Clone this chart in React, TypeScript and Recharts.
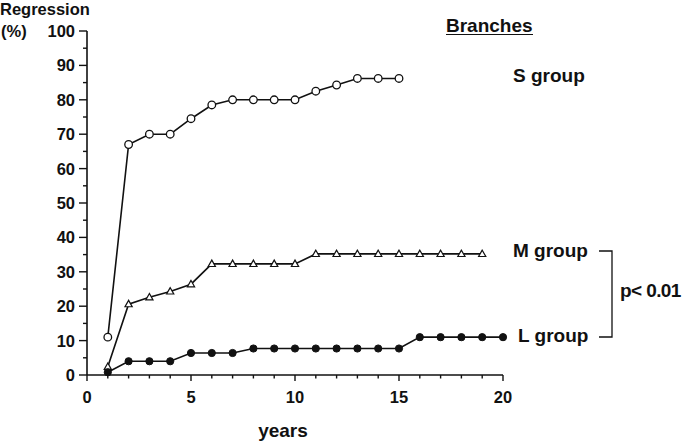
import { LineChart, Line, XAxis, YAxis, Customized } from "recharts";

const xTicks = Array.from({ length: 21 }, (_, i) => i);
const yTicks = Array.from({ length: 21 }, (_, i) => i * 5);

const sYears = [1, 2, 3, 4, 5, 6, 7, 8, 9, 10, 11, 12, 13, 14, 15];
const sValues = [11, 67, 70, 70, 74.5, 78.5, 80, 80, 80, 80, 82.5, 84.3, 86.2, 86.2, 86.2];

const mYears = [1, 2, 3, 4, 5, 6, 7, 8, 9, 10, 11, 12, 13, 14, 15, 16, 17, 18, 19];
const mValues = [2.4, 20.6, 22.6, 24.3, 26.4, 32.3, 32.3, 32.3, 32.3, 32.3, 35.2, 35.2, 35.2, 35.2, 35.2, 35.2, 35.2, 35.2, 35.2];

const lYears = [1, 2, 3, 4, 5, 6, 7, 8, 9, 10, 11, 12, 13, 14, 15, 16, 17, 18, 19, 20];
const lValues = [0.8, 4, 4, 4, 6.4, 6.4, 6.4, 7.7, 7.7, 7.7, 7.7, 7.7, 7.7, 7.7, 7.7, 11, 11, 11, 11, 11];

const sData = sYears.map((year, i) => ({ year, value: sValues[i] }));
const mData = mYears.map((year, i) => ({ year, value: mValues[i] }));
const lData = lYears.map((year, i) => ({ year, value: lValues[i] }));

const ink = "#111";
const font = "'Liberation Sans', Arial, Helvetica, sans-serif";

function XTick(props: any) {
  const { x, y, payload } = props;
  const major = payload.value % 5 === 0;
  return (
    <g>
      <line x1={x} y1={y} x2={x} y2={y + (major ? 6 : 3.5)} stroke={ink} strokeWidth={1.4} />
      {major && (
        <text x={x} y={y + 27.5} textAnchor="middle" fontFamily={font} fontWeight="bold" fontSize={16.5} fill={ink}>
          {payload.value}
        </text>
      )}
    </g>
  );
}

function YTick(props: any) {
  const { x, y, payload } = props;
  const major = payload.value % 10 === 0;
  return (
    <g>
      <line x1={x} y1={y} x2={x - (major ? 8 : 4)} y2={y} stroke={ink} strokeWidth={1.4} />
      {major && (
        <text x={x - 12} y={y + 6} textAnchor="end" fontFamily={font} fontWeight="bold" fontSize={16.5} fill={ink}>
          {payload.value}
        </text>
      )}
    </g>
  );
}

function Triangle(props: any) {
  const { cx, cy } = props;
  if (cx == null || cy == null) return null;
  return (
    <polygon
      points={`${cx},${cy - 3.8} ${cx - 3.6},${cy + 2.6} ${cx + 3.6},${cy + 2.6}`}
      fill="#fff"
      stroke={ink}
      strokeWidth={1.2}
    />
  );
}

function Annotations() {
  const t = { fontFamily: font, fontWeight: "bold" as const, fill: ink };
  return (
    <g>
      <text x={0} y={14.5} fontSize={16.5} {...t}>Regression</text>
      <text x={1} y={37} fontSize={16.5} {...t}>(%)</text>
      <text x={446} y={31.5} fontSize={19} {...t}>Branches</text>
      <line x1={446} y1={34.5} x2={533} y2={34.5} stroke={ink} strokeWidth={1} />
      <text x={513} y={81.5} fontSize={19} {...t}>S group</text>
      <text x={513} y={256.5} fontSize={19} {...t}>M group</text>
      <text x={518} y={341.5} fontSize={19} {...t}>L group</text>
      <text x={620} y={297} fontSize={19} letterSpacing={-0.6} {...t}>p&lt; 0.01</text>
      <polyline points="599,251 612,251 612,337 599,337" fill="none" stroke={ink} strokeWidth={1.3} />
      <text x={283} y={437} textAnchor="middle" fontSize={19} {...t}>years</text>
    </g>
  );
}

export default function App() {
  return (
    <div style={{ position: "absolute", left: 0, top: 0, width: 685, height: 442, background: "#fff" }}>
      <LineChart width={685} height={442} margin={{ top: 31, right: 182, bottom: 0, left: 0 }}>
        <XAxis
          dataKey="year"
          type="number"
          domain={[0, 20]}
          ticks={xTicks}
          interval={0}
          allowDuplicatedCategory={false}
          height={67}
          tickSize={0}
          tickMargin={0}
          tickLine={false}
          tick={<XTick />}
          axisLine={{ stroke: ink, strokeWidth: 1.6 }}
        />
        <YAxis
          type="number"
          domain={[0, 100]}
          ticks={yTicks}
          interval={0}
          width={87}
          tickSize={0}
          tickMargin={0}
          tickLine={false}
          tick={<YTick />}
          axisLine={{ stroke: ink, strokeWidth: 1.6 }}
        />
        <Line
          data={sData}
          dataKey="value"
          stroke={ink}
          strokeWidth={1.6}
          isAnimationActive={false}
          dot={{ r: 3.8, fill: "#fff", stroke: ink, strokeWidth: 1.3 }}
          activeDot={false}
        />
        <Line
          data={mData}
          dataKey="value"
          stroke={ink}
          strokeWidth={1.6}
          isAnimationActive={false}
          dot={<Triangle />}
          activeDot={false}
        />
        <Line
          data={lData}
          dataKey="value"
          stroke={ink}
          strokeWidth={1.6}
          isAnimationActive={false}
          dot={{ r: 3.6, fill: ink, stroke: ink, strokeWidth: 1 }}
          activeDot={false}
        />
        <Customized component={Annotations} />
      </LineChart>
    </div>
  );
}
